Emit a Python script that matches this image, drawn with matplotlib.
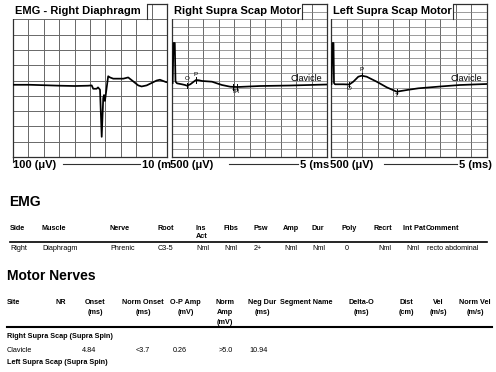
import numpy
from matplotlib import pyplot
import matplotlib.ticker as ticker
from matplotlib.patches import Rectangle

pyplot.rcParams['font.family'] = ['Liberation Sans', 'DejaVu Sans']

# ---- waveforms (time in ms, amplitude in uV) ----
emg_t = [0, 11, 20.8, 30.5, 40.2, 48.7, 51.1, 52.1, 54.3, 55.2, 56.5, 57.6, 58.6, 59.1, 59.7,
         60.8, 61.8, 63.0, 65.1, 71.6, 74.8, 78.1, 81.3, 83.5, 86.8, 93.3, 95.4, 99.3, 100]
emg_v = [-28, -28, -31, -34, -36, -34, -32, -54, -54, -45, -60, -368, -114, -95, -134,
         -49, 28, 20, 12, 12, 20, -6, -32, -39, -32, 0, 5, -10, -11]

rss_t = [0.2, 0.48, 0.9, 1.13, 1.6, 3.2, 4.2, 4.84, 5.9, 7.0, 7.74, 8.7, 9.7, 12.9, 16.1,
         18.8, 21, 28.4, 38, 50]
rss_v = [-82, 1226, 1226, -33, -92, -124, -147, -170, -124, -39, 16, 7, -16, -39, -147,
         -203, -213, -180, -164, -131]
rss_marks = ['O', 'P', 'T', 'R']
rss_mark_t = [4.84, 7.74, 19.8, 21.0]

lss_t = [0.16, 0.48, 0.8, 0.96, 1.28, 3.94, 5.87, 7.15, 8.75, 9.84, 11.44, 14.65, 17.85,
         21.06, 24.3, 28, 35, 41.3, 50]
lss_v = [-114, 1226, 1226, -82, -124, -124, -131, -39, 124, 157, 124, -39, -222,
         -366, -311, -255, -196, -147, -114]
lss_marks = ['O', 'P', 'T']
lss_mark_t = [5.87, 9.84, 21.06]

# ---- tables ----
emg_headers = ['Side', 'Muscle', 'Nerve', 'Root', 'Ins\nAct', 'Fibs', 'Psw', 'Amp', 'Dur',
               'Poly', 'Recrt', 'Int Pat', 'Comment']
emg_row = ['Right', 'Diaphragm', 'Phrenic', 'C3-5', 'Nml', 'Nml', '2+', 'Nml', 'Nml', '0',
           'Nml', 'Nml', 'recto abdominal']

motor_headers = ['Site', 'NR', 'Onset\n(ms)', 'Norm Onset\n(ms)', 'O-P Amp\n(mV)',
                 'Norm\nAmp\n(mV)', 'Neg Dur\n(ms)', 'Segment Name', 'Delta-O\n(ms)',
                 'Dist\n(cm)', 'Vel\n(m/s)', 'Norm Vel\n(m/s)']
motor_groups = ['Right Supra Scap (Supra Spin)', 'Left Supra Scap (Supra Spin)']
motor_row = ['Clavicle', '', '4.84', '<3.7', '0.26', '>5.0', '10.94', '', '', '', '', '']

W, H = 496.0, 372.0
fig = pyplot.figure(figsize=(4.96, 3.72), dpi=100)


def box(x0, x1, y0, y1):
    return [x0 / W, 1 - y1 / H, (x1 - x0) / W, (y1 - y0) / H]


page = fig.add_axes([0, 0, 1, 1])
page.set_xlim(0, W)
page.set_ylim(H, 0)
page.axis('off')


def draw_panel(x0, x1, t, v, xmax, ymax, rows, title, cover):
    ax = fig.add_axes(box(x0, x1, 4, 157))
    ax.set_xlim(0, xmax)
    ax.set_ylim(-ymax, ymax)
    ax.xaxis.set_major_locator(ticker.MultipleLocator(xmax / 10))
    ax.yaxis.set_major_locator(ticker.MultipleLocator(2 * ymax / rows))
    ax.tick_params(length=0, labelbottom=False, labelleft=False)
    ax.xaxis.grid(True, color='#686868', linewidth=0.7)
    ax.yaxis.grid(True, color='#686868' if rows == 10 else '#808080',
                  linewidth=0.7 if rows == 10 else 0.55)
    for s in ax.spines.values():
        s.set_linewidth(0.9)
        s.set_color('#303030')
    ax.plot(t, v, color='black', linewidth=1.25, zorder=5)
    ax.add_patch(Rectangle((-0.015, 0.905), cover + 0.015, 0.11, transform=ax.transAxes,
                           facecolor='white', edgecolor='none', zorder=6, clip_on=False))
    ax.plot([cover, cover], [0.905, 1.0], transform=ax.transAxes, color='#303030',
            linewidth=0.8, zorder=7)
    ax.text(0.012, 0.957, title, transform=ax.transAxes, fontsize=8, fontweight='bold',
            va='center', zorder=8)
    return ax


def draw_marks(ax, t, v, names, times, offsets):
    for name, tm, off in zip(names, times, offsets):
        a = numpy.interp(tm, t, v)
        ax.plot([tm, tm], [a - 90, a + 90], color='black', linewidth=0.7, zorder=5)
        ax.text(tm, a + off, name, fontsize=4.5, ha='center', va='center', zorder=5)


draw_panel(13, 167, emg_t, emg_v, 100, 500, 10, 'EMG - Right Diaphragm', 0.87)

ax2 = draw_panel(172, 327, rss_t, rss_v, 50, 2500, 20, 'Right Supra Scap Motor', 0.839)
draw_marks(ax2, rss_t, rss_v, rss_marks, rss_mark_t, [250, 190, -140, -140])
ax2.text(48.5, 80, 'Clavicle', fontsize=6.5, ha='right', va='center', zorder=5)

ax3 = draw_panel(331, 487, lss_t, lss_v, 50, 2500, 20, 'Left Supra Scap Motor', 0.782)
draw_marks(ax3, lss_t, lss_v, lss_marks, lss_mark_t, [-130, 210, -120])
ax3.text(48.5, 60, 'Clavicle', fontsize=6.5, ha='right', va='center', zorder=5)

# scale labels under the panels
scale_texts = [(13, '100 (μV)'), (142, '10 (m'), (170, '500 (μV)'), (300, '5 (ms'),
               (330, '500 (μV)'), (459, '5 (ms)')]
for x, s in scale_texts:
    page.text(x, 165, s, fontsize=8, fontweight='bold', va='center')
for xa, xb in [(63, 140), (229, 298), (384, 457)]:
    page.plot([xa, xb], [164, 164], color='#303030', linewidth=0.8)
page.plot([13, 13], [157, 162], color='#303030', linewidth=0.8)

# EMG table
page.text(9, 202, 'EMG', fontsize=10, fontweight='bold', va='center')
emg_x = [10, 42, 110, 158, 196, 223, 253, 283, 311, 341, 374, 403, 426]
emg_val_x = [10, 42, 110, 158, 196, 224, 254, 284, 312, 345, 378, 406, 427]
for x, s in zip(emg_x, emg_headers):
    for i, line in enumerate(s.split('\n')):
        page.text(x, 228 + 9 * i, line, fontsize=5.2, fontweight='bold', va='center')
page.plot([10, 487], [242, 242], color='black', linewidth=1.2)
for x, s in zip(emg_val_x, emg_row):
    page.text(x, 248.5, s, fontsize=5.2, va='center')

# Motor nerves table
page.text(7, 276, 'Motor Nerves', fontsize=10, fontweight='bold', va='center')
motor_x = [13.5, 61, 95.5, 143, 185.5, 225, 262, 306, 361.5, 406, 438.5, 475]
for x, s in zip(motor_x, motor_headers):
    for i, line in enumerate(s.split('\n')):
        page.text(x, 303 + 9.5 * i, line, fontsize=5.2, fontweight='bold', ha='center',
                  va='center')
page.plot([7, 492], [327, 327], color='black', linewidth=1.5)
page.text(7, 337, motor_groups[0], fontsize=5.2, fontweight='bold', va='center')
motor_val_x = [7, 61, 89, 142.5, 180, 226, 259, 306, 361.5, 406, 438.5, 475]
for i, (x, s) in enumerate(zip(motor_val_x, motor_row)):
    page.text(x, 351, s, fontsize=5.2, va='center', ha='left' if i == 0 else 'center')
page.text(7, 363, motor_groups[1], fontsize=5.2, fontweight='bold', va='center')

fig.savefig('out.png', dpi=100)
